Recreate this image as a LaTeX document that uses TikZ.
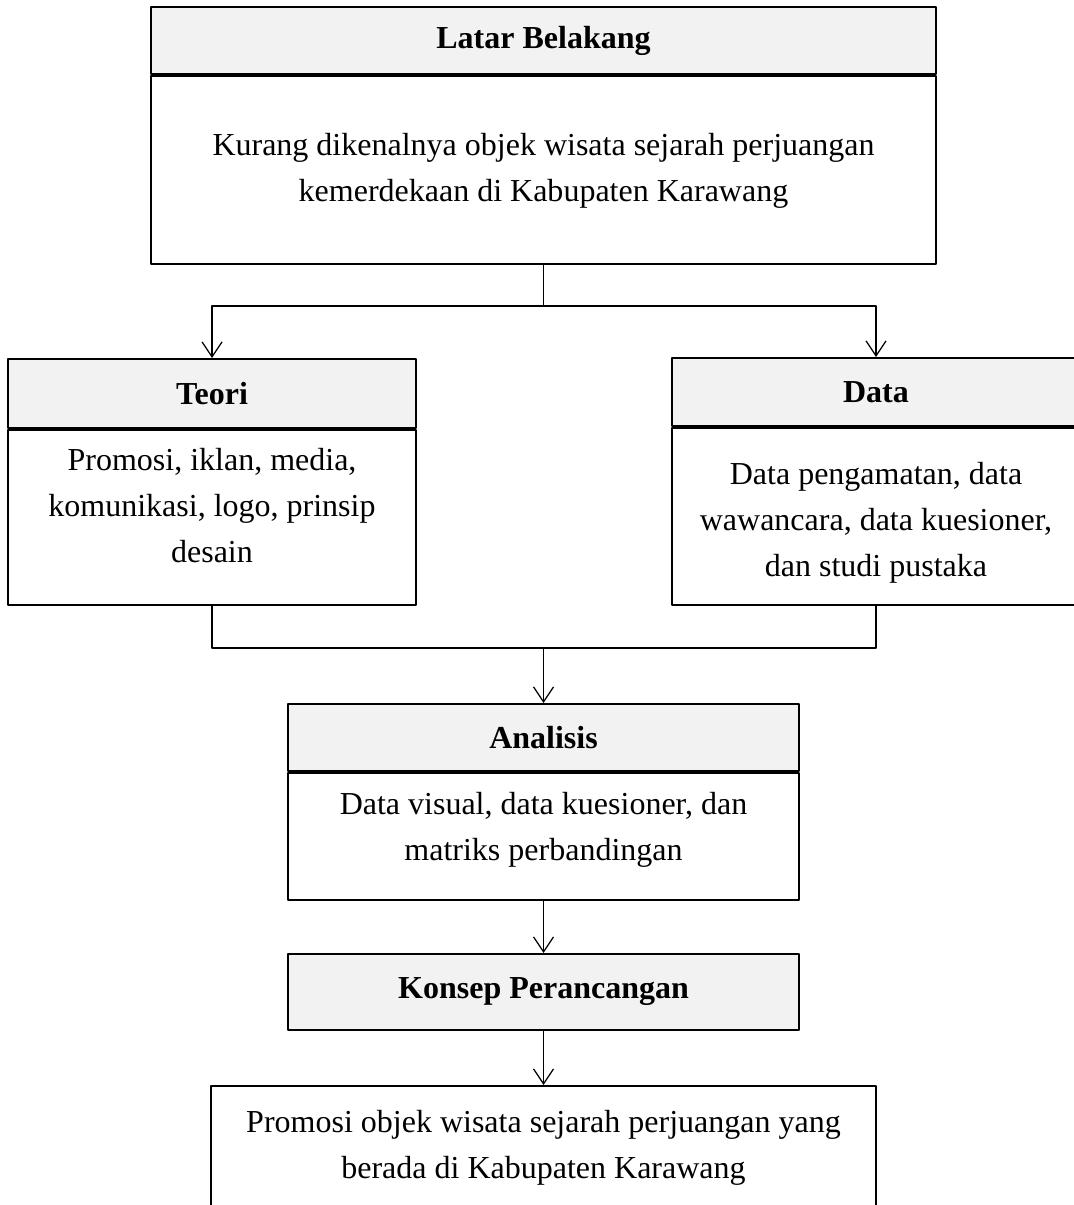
\documentclass[tikz,border=0pt]{standalone}
\usepackage{fontspec}
\setmainfont{Liberation Serif}
\usepackage{xcolor}
\usetikzlibrary{arrows.meta,positioning,calc}
\definecolor{headgray}{RGB}{242,242,242}
\newcommand{\boxfont}{\fontsize{12.8pt}{18.4pt}\selectfont}
\tikzset{%
       boxpx/.style 2 args = { minimum width=#1*0.4pt, minimum height=#2*0.4pt },
    headbox/.style = { draw, line width=0.8pt, fill=headgray, inner sep=0pt,
                       font=\boxfont\bfseries, anchor=north },
    bodybox/.style = { draw, line width=0.8pt, fill=white, inner sep=0pt,
                       anchor=north },
   bodytext/.style = { align=center, inner sep=0pt, font=\boxfont },
       flow/.style = { line width=0.5pt },
      arrow/.style = { flow, -{Straight Barb[length=6pt,width=8pt]} }
}

\begin{document}
\begin{tikzpicture}[x=0.4pt,y=-0.4pt,line cap=round,line join=round]
\useasboundingbox (0,0) rectangle (1073,1205);

% latar belakang
\node[headbox,boxpx={785}{67}] (latarhead) at (543.5,6) {Latar Belakang};
\node[bodybox,boxpx={785}{188}] (latarbody) at (latarhead.south) {};
\node[bodytext] (latartext) at (543.5,171)
  {Kurang dikenalnya objek wisata sejarah perjuangan\\kemerdekaan di Kabupaten Karawang};

% teori dan data
\node[headbox,boxpx={408}{69}] (teorihead) at (212,358) {Teori};
\node[bodybox,boxpx={408}{175}] (teoribody) at (teorihead.south) {};
\node[bodytext] (teoritext) at (212,506)
  {Promosi, iklan, media,\\komunikasi, logo, prinsip\\desain};
\node[headbox,boxpx={408}{68}] (datahead) at (876,357) {Data};
\node[bodybox,boxpx={408}{177}] (databody) at (datahead.south) {};
\node[bodytext] (datatext) at (876,523)
  {Data pengamatan, data\\wawancara, data kuesioner,\\dan studi pustaka};

% analisis
\node[headbox,boxpx={511}{67}] (analisishead) at (543.5,703) {Analisis};
\node[bodybox,boxpx={511}{127}] (analisisbody) at (analisishead.south) {};
\node[bodytext] (analisistext) at (543.5,830)
  {Data visual, data kuesioner, dan\\matriks perbandingan};

% konsep dan hasil
\node[headbox,boxpx={511}{76}] (konsep) at (543.5,953) {Konsep Perancangan};
\node[bodybox,boxpx={665}{140}] (hasil) at (543.5,1085) {};
\node[bodytext] (hasiltext) at (543.5,1148)
  {Promosi objek wisata sejarah perjuangan yang\\berada di Kabupaten Karawang};

\coordinate (split) at (543.5,306);
\coordinate (join) at (543.5,648);

\draw[flow] (latarbody.south) -- (split);
\draw[arrow] (split) -| (teorihead.north);
\draw[arrow] (split) -| (datahead.north);
\draw[flow] (teoribody.south) |- (join) -| (databody.south);
\draw[arrow] (join) -- (analisishead.north);
\draw[arrow] (analisisbody.south) -- (konsep.north);
\draw[arrow] (konsep.south) -- (hasil.north);
\end{tikzpicture}
\end{document}
